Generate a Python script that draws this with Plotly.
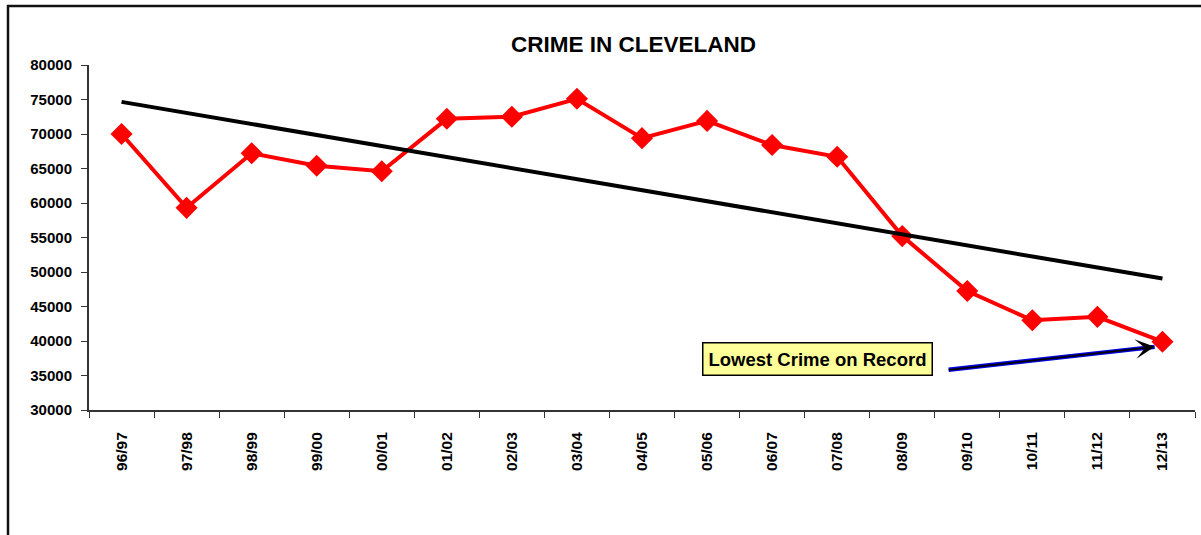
import numpy as np
import plotly.graph_objects as go

seasons = ["96/97", "97/98", "98/99", "99/00", "00/01", "01/02", "02/03", "03/04", "04/05",
           "05/06", "06/07", "07/08", "08/09", "09/10", "10/11", "11/12", "12/13"]
crimes = [70000, 59300, 67200, 65400, 64600, 72200, 72500, 75100, 69400,
          71900, 68400, 66700, 55200, 47250, 43000, 43500, 39900]
y_ticks = [30000, 35000, 40000, 45000, 50000, 55000, 60000, 65000, 70000, 75000, 80000]
y_tick_text = [str(v) for v in y_ticks]

# linear trendline (least squares fit of the series)
idx = np.arange(len(crimes))
slope, intercept = np.polyfit(idx, crimes, 1)
trend = [slope * i + intercept for i in (idx[0], idx[-1])]

fig = go.Figure()
fig.add_trace(go.Scatter(
    x=seasons, y=crimes, mode="lines+markers",
    line=dict(color="#FF0000", width=4),
    marker=dict(symbol="diamond", size=17, color="#FF0000"),
    showlegend=False, hoverinfo="x+y"))
fig.add_trace(go.Scatter(
    x=[seasons[0], seasons[-1]], y=trend, mode="lines",
    line=dict(color="black", width=4), showlegend=False))

font_family = "Liberation Sans, Arial, sans-serif"
fig.update_layout(
    width=1201, height=535,
    margin=dict(l=89, r=6, t=65, b=125),
    paper_bgcolor="white", plot_bgcolor="white",
    font=dict(family=font_family, color="black"),
    xaxis=dict(
        type="category", tickson="boundaries", ticks="outside", ticklen=6,
        tickcolor="#333", showline=True, linecolor="#333", linewidth=2,
        showgrid=False, zeroline=False, tickangle=-90,
        tickfont=dict(size=15.5, family=font_family, weight="bold"),
        ticklabelstandoff=14, range=[-0.5, len(seasons) - 0.5]),
    yaxis=dict(
        range=[30000, 80000], tickvals=y_ticks, ticktext=y_tick_text,
        ticks="outside", ticklen=6,
        tickcolor="#333", showline=True, linecolor="#333", linewidth=2,
        showgrid=False, zeroline=False,
        tickfont=dict(size=15, family=font_family, weight="bold"),
        ticklabelstandoff=6),
)

fig.add_annotation(
    xref="paper", yref="paper", x=(633 - 89) / 1106, y=1 + (65 - 45) / 345,
    text="<b>CRIME IN CLEVELAND</b>", showarrow=False,
    font=dict(size=22.5, family=font_family, color="black"),
    xanchor="center", yanchor="middle")

# arrow from label towards last point: blue outline, black core and head
arrow_tip = (15.88, 39150)
arrow_tail = (12.69, 35800)
fig.add_annotation(
    x=arrow_tip[0], y=arrow_tip[1], ax=arrow_tail[0], ay=arrow_tail[1],
    xref="x", yref="y", axref="x", ayref="y",
    text="", showarrow=True, arrowhead=0, arrowwidth=4.5, arrowcolor="#0000DD")
fig.add_annotation(
    x=arrow_tip[0], y=arrow_tip[1], ax=arrow_tail[0], ay=arrow_tail[1],
    xref="x", yref="y", axref="x", ayref="y",
    text="", showarrow=True, arrowhead=3, arrowsize=1.8, arrowwidth=1.8,
    arrowcolor="black")
fig.add_annotation(
    x=10.7, y=37350, xref="x", yref="y",
    text="<b>Lowest Crime on Record</b>", showarrow=False,
    font=dict(size=18.5, family=font_family, color="black"),
    bgcolor="#FFFF99", bordercolor="black", borderwidth=1.5, borderpad=5,
    xanchor="center", yanchor="middle")

# outer chart frame (left and top edges visible)
fig.add_shape(type="rect", xref="paper", yref="paper",
              x0=(8 - 89) / 1106, x1=1.2, y0=-0.6, y1=1 + (65 - 6) / 345,
              line=dict(color="#111", width=2.5), layer="below")

fig.write_html("out.html")
